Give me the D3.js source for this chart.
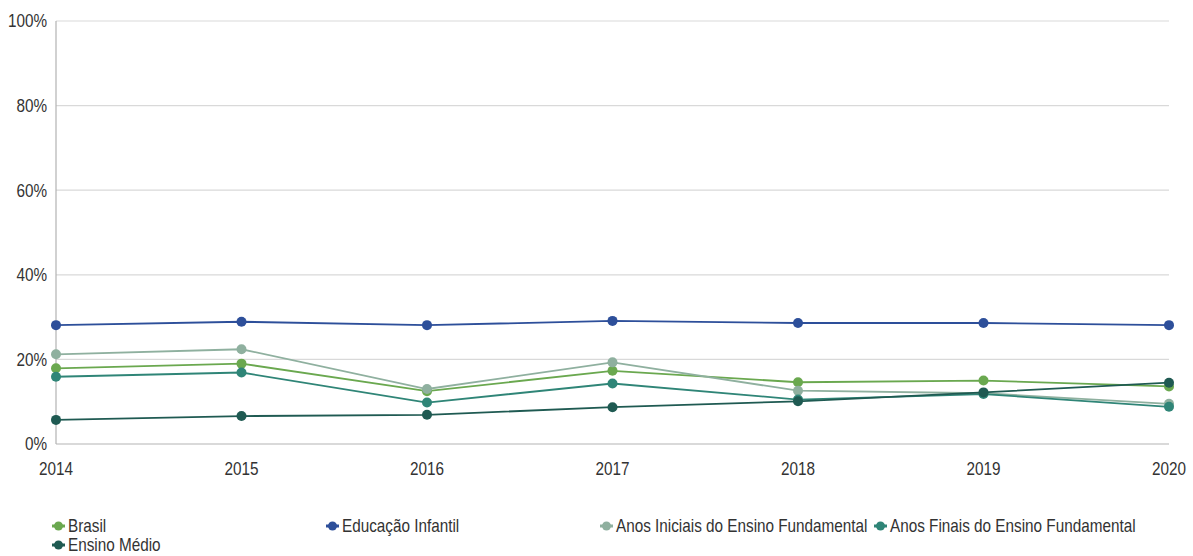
<!DOCTYPE html>
<html>
<head>
<meta charset="utf-8">
<script src="https://cdn.jsdelivr.net/npm/d3@7"></script>
<style>
  html, body { margin: 0; padding: 0; background: #fff; }
  svg text { font-family: "Liberation Sans", Arial, sans-serif; fill: #333; }
</style>
</head>
<body>
<svg id="chart" width="1193" height="556"></svg>
<script>
// Anos de referência
const years = [2014, 2015, 2016, 2017, 2018, 2019, 2020];
const yTicks = [0, 20, 40, 60, 80, 100];

// Percentuais por etapa de ensino
const brasil        = [17.9, 19.0, 12.5, 17.3, 14.6, 15.0, 13.6];
const educInfantil  = [28.1, 28.9, 28.1, 29.1, 28.6, 28.6, 28.1];
const anosIniciais  = [21.2, 22.4, 13.0, 19.3, 12.6, 12.0, 9.5];
const anosFinais    = [15.9, 16.9, 9.8, 14.3, 10.5, 11.8, 8.8];
const ensinoMedio   = [5.7, 6.6, 6.9, 8.7, 10.1, 12.2, 14.5];

const seriesNames  = ["Brasil", "Educação Infantil", "Anos Iniciais do Ensino Fundamental", "Anos Finais do Ensino Fundamental", "Ensino Médio"];
const seriesValues = [brasil, educInfantil, anosIniciais, anosFinais, ensinoMedio];
const seriesColors = ["#6aa84f", "#2d4f9a", "#8fb09f", "#2f8577", "#1f5a52"];

const svg = d3.select("#chart");
const margin = { left: 56, right: 24, top: 21, bottom: 112 };
const W = 1193, H = 556;
const FS = 18, SX = 0.85; // fonte estreita: tamanho e compressão horizontal

const x = d3.scalePoint().domain(years).range([margin.left, W - margin.right]);
const y = d3.scaleLinear().domain([0, 100]).range([H - margin.bottom, margin.top]);

// Texto comprimido horizontalmente
function narrowText(sel, tx, ty) {
  return sel.attr("transform", (d, i) => `translate(${tx(d, i)},${ty(d, i)}) scale(${SX},1)`)
    .attr("font-size", FS);
}

// Linhas de grade horizontais
svg.append("g")
  .selectAll("line")
  .data(yTicks)
  .join("line")
  .attr("x1", margin.left).attr("x2", W - margin.right)
  .attr("y1", d => y(d)).attr("y2", d => y(d))
  .attr("stroke", d => d === 0 ? "#b3b3b3" : "#d9d9d9")
  .attr("stroke-width", 1.2);

// Eixo vertical
svg.append("line")
  .attr("x1", margin.left).attr("x2", margin.left)
  .attr("y1", y(100)).attr("y2", y(0))
  .attr("stroke", "#b3b3b3").attr("stroke-width", 1.2);

// Rótulos do eixo Y
narrowText(
  svg.append("g").selectAll("text").data(yTicks).join("text"),
  () => margin.left - 9, d => y(d)
).attr("dy", "0.35em").attr("text-anchor", "end").text(d => d + "%");

// Rótulos do eixo X
narrowText(
  svg.append("g").selectAll("text").data(years).join("text"),
  d => x(d), () => y(0) + 31
).attr("text-anchor", "middle").text(d => d);

// Séries
const line = d3.line().x((d, i) => x(years[i])).y(d => y(d));
seriesValues.forEach((vals, k) => {
  const g = svg.append("g");
  g.append("path")
    .attr("d", line(vals))
    .attr("fill", "none")
    .attr("stroke", seriesColors[k])
    .attr("stroke-width", 1.8);
  g.selectAll("circle")
    .data(vals)
    .join("circle")
    .attr("cx", (d, i) => x(years[i]))
    .attr("cy", d => y(d))
    .attr("r", 5)
    .attr("fill", seriesColors[k]);
});

// Legenda
const legendPos = [
  { x: 52, y: 526 }, { x: 326, y: 526 }, { x: 600, y: 526 }, { x: 874, y: 526 }, { x: 52, y: 545 }
];
seriesNames.forEach((name, k) => {
  const p = legendPos[k];
  const g = svg.append("g").attr("transform", `translate(${p.x},${p.y})`);
  g.append("line").attr("x1", 0).attr("x2", 13).attr("y1", 0).attr("y2", 0)
    .attr("stroke", seriesColors[k]).attr("stroke-width", 3);
  g.append("circle").attr("cx", 6.5).attr("cy", 0).attr("r", 4.5).attr("fill", seriesColors[k]);
  g.append("text")
    .attr("transform", `translate(16,0) scale(${SX},1)`)
    .attr("font-size", FS)
    .attr("dy", "0.35em")
    .text(name);
});
</script>
</body>
</html>
